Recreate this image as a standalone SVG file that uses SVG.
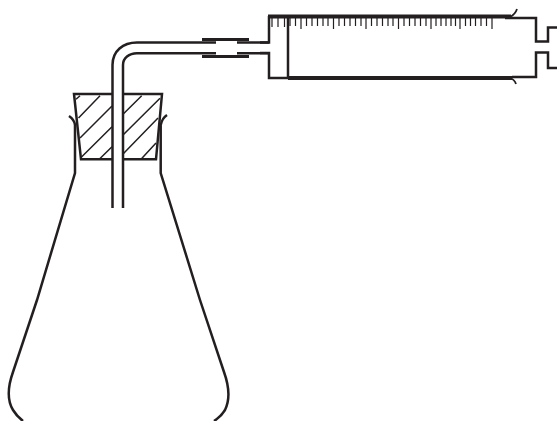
<svg xmlns="http://www.w3.org/2000/svg" width="557" height="421" viewBox="0 0 557 421">
<style>
.l{fill:none;stroke:#231f20;stroke-width:2.500;stroke-linecap:butt;stroke-linejoin:miter}
.s{fill:none;stroke:#231f20;stroke-width:3}
.h{fill:none;stroke:#231f20;stroke-width:1.500}
.t{fill:none;stroke:#231f20;stroke-width:1.200}
.k{fill:none;stroke:#231f20;stroke-width:4}
</style>
<rect width="557" height="421" fill="#fff"/>
<g id="flask">
<path class="l" d="M69 116C72 118 74.500 121 75 125V173L37 300L13 372C8 386 7 400 13 410C16 415 19 418 23 421"/>
<path class="l" d="M167 115C164 117 161.500 121 160.700 125V173L200 300L224 372C229 386 230 400 225 410C222 415 219 418 214 421"/>
</g>
<g id="stopper">
<path class="l" d="M112.500 94H74L81 159.300H112.500M123 94H162L156 159.300H123"/>
<path class="h" d="M80 95.700L76 99.300M100 95.700L78.500 118M112 106L80 138M112 126.700L81.500 157M112 146.700L100 158.500M141.700 95.700L123.500 113.800M160 98.300L123.500 134.500M158 118L123.500 153.500M156 143L141.700 158.500"/>
</g>
<g id="tube">
<path class="l" d="M112.500 208V65C112.500 51 123 42.500 137 42.500H216M123 208V65C123 58 129 53.300 137 53.300H216"/>
<path class="l" d="M237 42.500H269M237 53.300H269"/>
<path class="s" d="M202 39.500H249M202 56.500H249"/>
</g>
<g id="syringe">
<path class="l" d="M260 42.500H269V16M260 53H269V78H289"/>
<path class="k" d="M268 16.500H511"/>
<path class="l" d="M505 18H536V41.500H548V27.500H557"/>
<path class="l" d="M288 17V78"/>
<path class="l" d="M512 77H536V52.500H548V68H557"/>
<path class="k" d="M288 78H512"/>
<path class="l" d="M510 17C514 15 516 12 517 9M510 78C513 79 515 81 516 84" style="stroke-width:1.800"/>
<path class="t" d="M272 18V27M278 18V27M284.500 18V27M290 18V26M295.500 18V26M301 18V29M306.500 18V26M312 18V26M317.500 18V26M323 18V26M328 18V26M333.500 18V29M339 18V26M344.500 18V26M350 18V26M355.500 18V26M361 18V26M366 18V29M371.500 18V26M377 18V26M382.500 18V26M388 18V26M393 18V26M398.500 18V29M404 18V26M409.500 18V26M415 18V26M420.500 18V26M426 18V26M431 18V29M436 18V26M441 18V26M446 18V26M451 18V26M455.500 18V26M460 18V29M465.500 18V26M470.500 18V26M475.500 18V26M481 18V26M486.500 18V26M492 18V29"/>
</g>
</svg>
